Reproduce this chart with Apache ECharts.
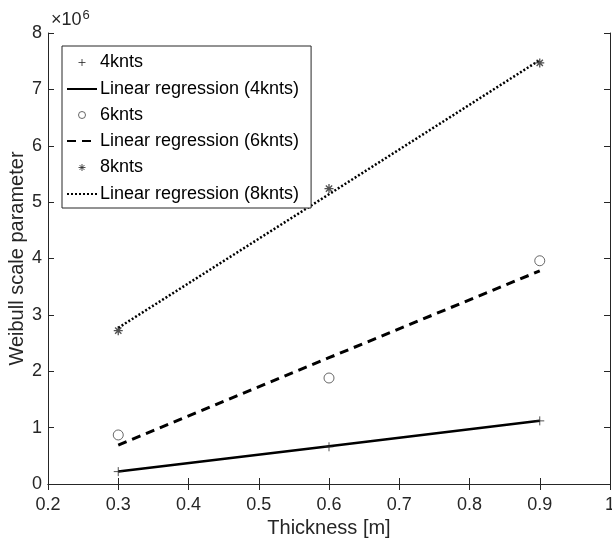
<!DOCTYPE html>
<html><head><meta charset="utf-8">
<script src="https://cdn.jsdelivr.net/npm/echarts@6/dist/echarts.min.js"></script>
<style>html,body{margin:0;padding:0;background:#fff}#c{width:612px;height:547px}</style>
</head><body><div id="c"></div>
<script>
// values in units of 10^6
const thickness = [0.3, 0.6, 0.9];
const pts4 = [0.22, 0.66, 1.12];
const reg4 = [0.22, 0.67, 1.12];
const pts6 = [0.87, 1.88, 3.96];
const reg6 = [0.69, 2.24, 3.78];
const pts8 = [2.72, 5.24, 7.47];
const reg8 = [2.77, 5.14, 7.52];
const xTicks = [0.2, 0.3, 0.4, 0.5, 0.6, 0.7, 0.8, 0.9, 1];
const yTicks = [0, 1, 2, 3, 4, 5, 6, 7, 8];
const names = ['4knts', 'Linear regression (4knts)', '6knts', 'Linear regression (6knts)', '8knts', 'Linear regression (8knts)'];

const pair = (ys) => thickness.map((x, i) => [x, ys[i]]);
const plusPath = 'path://M0,5 L10,5 M5,0 L5,10';
const starPath = 'path://M0,5 L10,5 M5,0 L5,10 M1.5,1.5 L8.5,8.5 M1.5,8.5 L8.5,1.5';
// legend icons padded so the glyph occupies about half the icon box
const plusLeg = 'path://M0,0 M16,16 M4,8 L12,8 M8,4 L8,12';
const starLeg = 'path://M0,0 M16,16 M4,8 L12,8 M8,4 L8,12 M5.2,5.2 L10.8,10.8 M5.2,10.8 L10.8,5.2';
const circLeg = 'path://M0,0 M16,16 M12,8 A4,4 0 1 1 4,8 A4,4 0 1 1 12,8 Z';
const ink = '#262626';
const font = '"Liberation Sans", Arial, sans-serif';

const chart = echarts.init(document.getElementById('c'), null, {renderer: 'canvas'});
const axisCommon = {
  axisLine: {show: true, lineStyle: {color: ink, width: 1}},
  axisTick: {show: true, inside: true, length: 6, lineStyle: {color: ink}},
  splitLine: {show: false}
};
chart.setOption({
  animation: false,
  backgroundColor: '#fff',
  color: ['#000'],
  grid: {left: 48, right: 2, top: 33, bottom: 63, containLabel: false, outerBoundsMode: 'none'},
  xAxis: [
    Object.assign({type: 'value', min: xTicks[0], max: xTicks[xTicks.length - 1], interval: 0.1, position: 'bottom',
      name: 'Thickness [m]', nameLocation: 'middle', nameGap: 34, nameMoveOverlap: false,
      nameTextStyle: {fontFamily: font, fontSize: 20, color: ink},
      axisLabel: {fontFamily: font, fontSize: 18, color: ink, margin: 12, formatter: v => String(+v.toFixed(1))}}, axisCommon),
    Object.assign({type: 'value', min: xTicks[0], max: xTicks[xTicks.length - 1], interval: 0.1, position: 'top',
      axisLabel: {show: false}}, axisCommon)
  ],
  yAxis: [
    Object.assign({type: 'value', min: yTicks[0], max: yTicks[yTicks.length - 1], interval: 1, position: 'left',
      name: 'Weibull scale parameter', nameLocation: 'middle', nameGap: 21, nameRotate: 90, nameMoveOverlap: false,
      nameTextStyle: {fontFamily: font, fontSize: 20, color: ink},
      axisLabel: {fontFamily: font, fontSize: 18, color: ink, margin: 6}}, axisCommon),
    Object.assign({type: 'value', min: yTicks[0], max: yTicks[yTicks.length - 1], interval: 1, position: 'right',
      axisLabel: {show: false}}, axisCommon)
  ],
  legend: {
    orient: 'vertical', left: 62, top: 46,
    backgroundColor: '#fff', borderColor: ink, borderWidth: 1,
    padding: [7, 12, 5, 4], itemGap: 8, itemWidth: 30, itemHeight: 14,
    textStyle: {fontFamily: font, fontSize: 18, lineHeight: 18, color: '#000', padding: [0, 0, 0, -2]},
    data: [
      {name: names[0], icon: plusLeg, itemStyle: {color: 'none', borderColor: ink, borderWidth: 1}},
      {name: names[1], itemStyle: {opacity: 0}},
      {name: names[2], icon: circLeg, itemStyle: {color: '#fff', borderColor: '#444', borderWidth: 1}},
      {name: names[3], itemStyle: {opacity: 0}},
      {name: names[4], icon: starLeg, itemStyle: {color: 'none', borderColor: ink, borderWidth: 1}},
      {name: names[5], itemStyle: {opacity: 0}}
    ]
  },
  graphic: [{
    type: 'text', left: 51, top: 9,
    style: {text: '×10{s|6}', fontFamily: font, fontSize: 18, fill: ink,
      rich: {s: {fontFamily: font, fontSize: 13, fill: ink, padding: [0, 0, 9, 1]}}}
  }],
  series: [
    {name: names[0], type: 'scatter', data: pair(pts4), symbol: plusPath, symbolSize: 9,
      itemStyle: {color: 'none', borderColor: ink, borderWidth: 1}, z: 5},
    {name: names[1], type: 'line', data: pair(reg4), symbol: 'none', itemStyle: {color: '#000'},
      lineStyle: {color: '#000', width: 2.5, type: 'solid'}},
    {name: names[2], type: 'scatter', data: pair(pts6), symbol: 'circle', symbolSize: 10,
      itemStyle: {color: 'none', borderColor: '#444', borderWidth: 1}, z: 5},
    {name: names[3], type: 'line', data: pair(reg6), symbol: 'none', itemStyle: {color: '#000'},
      lineStyle: {color: '#000', width: 3, type: [9, 6]}},
    {name: names[4], type: 'scatter', data: pair(pts8), symbol: starPath, symbolSize: 9,
      itemStyle: {color: 'none', borderColor: ink, borderWidth: 1.3}, z: 5},
    {name: names[5], type: 'line', data: pair(reg8), symbol: 'none', itemStyle: {color: '#000'},
      lineStyle: {color: '#000', width: 2.5, type: [2, 2]}}
  ]
});
</script></body></html>
